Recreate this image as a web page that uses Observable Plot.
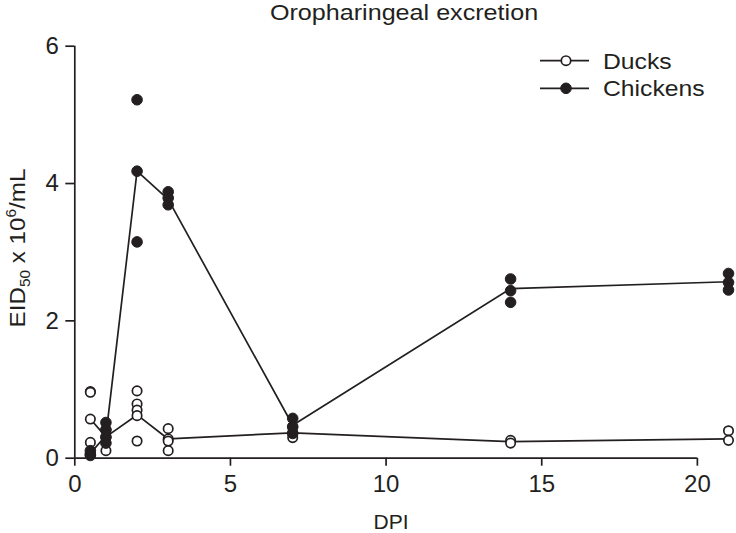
<!DOCTYPE html>
<html><head><meta charset="utf-8">
<script src="https://cdn.jsdelivr.net/npm/d3@7"></script>
<script src="https://cdn.jsdelivr.net/npm/@observablehq/plot@0.6"></script>
<style>body{margin:0;background:#fff;}</style>
</head><body><div id="chart"></div>
<script>
const title = "Oropharingeal excretion";
const seriesNames = ["Ducks", "Chickens"];
const xTicks = [0, 5, 10, 15, 20];
const yTicks = [0, 2, 4, 6];
const dpi = [0.5, 1, 2, 3, 7, 14, 21];
const duckMean = [0.57, 0.31, 0.63, 0.28, 0.37, 0.24, 0.28];
const chickenMean = [0.07, 0.33, 4.18, 3.77, 0.48, 2.47, 2.57];
const duckX = [0.5,0.5,0.5,0.5, 1,1,1, 2,2,2,2,2, 3,3,3,3, 7,7,7, 14,14, 21,21];
const duckY = [0.97,0.96,0.57,0.23, 0.11,0.30,0.42, 0.98,0.79,0.70,0.62,0.25, 0.43,0.28,0.25,0.11, 0.45,0.37,0.30, 0.26,0.22, 0.40,0.26];
const chickenX = [0.5,0.5,0.5, 1,1,1,1, 2,2,2, 3,3,3, 7,7,7, 14,14,14, 21,21,21];
const chickenY = [0.11,0.06,0.04, 0.52,0.41,0.31,0.22, 5.22,4.18,3.15, 3.88,3.79,3.69, 0.58,0.46,0.36, 2.61,2.44,2.27, 2.69,2.56,2.45];

const ink = "#231f20";
const font = "'Liberation Sans', Arial, sans-serif";
const duckLine = dpi.map((d, i) => ({dpi: d, value: duckMean[i]}));
const chickenLine = dpi.map((d, i) => ({dpi: d, value: chickenMean[i]}));
const duckPts = duckX.map((d, i) => ({dpi: d, value: duckY[i]}));
const chickenPts = chickenX.map((d, i) => ({dpi: d, value: chickenY[i]}));

const plot = Plot.plot({
  width: 736, height: 533,
  marginLeft: 74.3, marginRight: 8, marginTop: 45.7, marginBottom: 75.3,
  style: {fontFamily: font, fontSize: "24px", color: ink, background: "#fff", overflow: "visible"},
  x: {domain: [0, 21]},
  y: {domain: [0, 6]},
  marks: [
    Plot.ruleY([0], {x1: 0, x2: 20, stroke: ink, strokeWidth: 1.7}),
    Plot.ruleX([0], {y1: 0, y2: 6, stroke: ink, strokeWidth: 1.7}),
    Plot.axisX({ticks: xTicks, tickSize: 8, tickPadding: 9, label: null, strokeWidth: 1.7, fontSize: 24, tickFormat: d => String(d)}),
    Plot.axisY({ticks: yTicks, tickSize: 9, tickPadding: 7, label: null, strokeWidth: 1.7, fontSize: 24, tickFormat: d => String(d)}),
    Plot.line(duckLine, {x: "dpi", y: "value", stroke: ink, strokeWidth: 1.7}),
    Plot.line(chickenLine, {x: "dpi", y: "value", stroke: ink, strokeWidth: 1.7}),
    Plot.dot(duckPts, {x: "dpi", y: "value", r: 4.7, fill: "#fff", stroke: ink, strokeWidth: 1.7}),
    Plot.dot(chickenPts, {x: "dpi", y: "value", r: 5.3, fill: ink, stroke: ink, strokeWidth: 1})
  ]
});
document.getElementById("chart").appendChild(plot);

const svg = d3.select(plot);
svg.append("text").attr("transform", "translate(404,20) scale(1.17,1)").attr("text-anchor", "middle")
  .attr("font-family", font).style("font-size", "21.5px").attr("fill", ink).text(title);
svg.append("text").attr("x", 391).attr("y", 529).attr("text-anchor", "middle")
  .attr("font-family", font).style("font-size", "21px").attr("fill", ink).text("DPI");

const yl = svg.append("text").attr("transform", "translate(25,248) rotate(-90) scale(1.1,1)")
  .attr("text-anchor", "middle").attr("font-family", font).style("font-size", "22px").attr("fill", ink);
yl.append("tspan").text("EID");
yl.append("tspan").attr("dy", 5).style("font-size", "14px").text("50");
yl.append("tspan").attr("dy", -5).text(" x 10");
yl.append("tspan").attr("dy", -9).style("font-size", "14px").text("6");
yl.append("tspan").attr("dy", 9).text("/mL");

const legendRows = [
  {name: seriesNames[0], y: 60.7, fill: "#fff"},
  {name: seriesNames[1], y: 88.3, fill: ink}
];
for (const r of legendRows) {
  svg.append("line").attr("x1", 540).attr("x2", 589).attr("y1", r.y).attr("y2", r.y)
    .attr("stroke", ink).attr("stroke-width", 1.7);
  svg.append("circle").attr("cx", 566).attr("cy", r.y).attr("r", r.fill === ink ? 5.3 : 4.7)
    .attr("fill", r.fill).attr("stroke", ink).attr("stroke-width", r.fill === ink ? 1 : 1.7);
  svg.append("text").attr("transform", `translate(603,${r.y + 7.8}) scale(1.15,1)`).attr("text-anchor", "start")
    .attr("font-family", font).style("font-size", "21.5px").attr("fill", ink).text(r.name);
}
</script>
</body></html>
